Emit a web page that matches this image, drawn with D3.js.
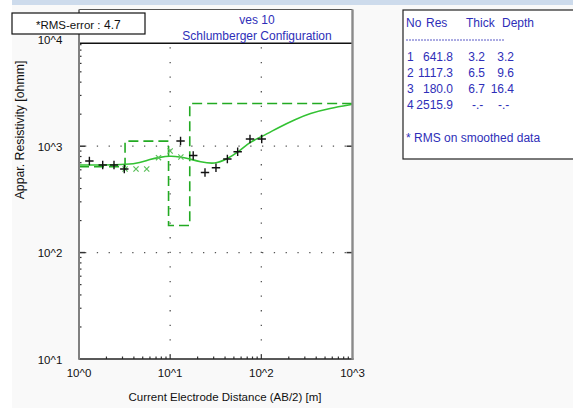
<!DOCTYPE html>
<html><head><meta charset="utf-8">
<script src="https://cdn.jsdelivr.net/npm/d3@7"></script>
<style>
html,body{margin:0;padding:0;background:#fff;}
svg{display:block;font-family:"Liberation Sans",Arial,sans-serif;}
</style></head>
<body>
<svg id="c" width="573" height="408"></svg>
<script>
// ---- data ----
const title1 = "ves 10";
const title2 = "Schlumberger Configuration";
const rmsLabel = "*RMS-error :";
const rmsValue = "4.7";
const xTitle = "Current Electrode Distance (AB/2) [m]";
const yTitle = "Appar. Resistivity [ohmm]";
const xTicks = [1, 10, 100, 1000];
const xTickLabels = ["10^0", "10^1", "10^2", "10^3"];
const yTicks = [10, 100, 1000, 10000];
const yTickLabels = ["10^1", "10^2", "10^3", "10^4"];
// observed apparent resistivity (black +)
const obsAB = [1.30, 1.82, 2.42, 3.14, 13.0, 17.9, 24.1, 31.8, 42.4, 55.0, 75.1, 101];
const obsRho = [726, 665, 665, 611, 1119, 818, 566, 628, 759, 888, 1169, 1169];
// smoothed data (green x)
const smAB = [3.2, 4.22, 5.53, 7.45, 10.0, 13.1];
const smRho = [611, 611, 611, 780, 902, 791];
// calculated curve
const curAB = [1.0, 1.7, 3.45, 4.66, 6.0, 7.72, 9.9, 12.7, 16.4, 21.2, 30.9, 42.0, 55.5, 75.1, 101, 160, 234, 340, 560, 1000];
const curRho = [665, 665, 673, 700, 753, 787, 810, 797, 758, 715, 676, 758, 877, 1102, 1228, 1524, 1782, 2037, 2271, 2475];
// layer model
const layerNo = [1, 2, 3, 4];
const layerRes = [641.8, 1117.3, 180.0, 2515.9];
const layerThick = [3.2, 6.5, 6.7, null];
const layerDepth = [3.2, 9.6, 16.4, null];
const tableHeader = ["No", "Res", "Thick", "Depth"];
const tableNote = "* RMS on smoothed data";

// ---- drawing ----
const svg = d3.select("#c");
const L = 79, R = 352.5, T = 43.3, B = 359, FT = 9.5;
const x = d3.scaleLog().domain([1, 1000]).range([L, R]);
const y = d3.scaleLog().domain([10, 10000]).range([B, B - 3 * 106.4]);
const blue = "#2e2eb8";

// backgrounds
svg.append("rect").attr("x", 0).attr("y", 0).attr("width", 573).attr("height", 408).attr("fill", "#ffffff");
svg.append("rect").attr("x", 12).attr("y", 0).attr("width", 561).attr("height", 408).attr("fill", "#f9f9f9");
svg.append("rect").attr("x", 12).attr("y", 0).attr("width", 561).attr("height", 5).attr("fill", "#cddbec");
svg.append("rect").attr("x", L).attr("y", FT).attr("width", R - L).attr("height", B - FT).attr("fill", "#ffffff");

// gridlines (dotted)
const grid = svg.append("g");
[10, 100].forEach(v => {
  grid.append("line").attr("x1", x(v)).attr("x2", x(v)).attr("y1", T + 4).attr("y2", B)
    .attr("stroke", "#555").attr("stroke-width", 1.3).attr("stroke-dasharray", "1.3,13.3");
});
[100, 1000].forEach(v => {
  grid.append("line").attr("x1", L + 6).attr("x2", R).attr("y1", y(v)).attr("y2", y(v))
    .attr("stroke", "#555").attr("stroke-width", 1.3).attr("stroke-dasharray", "1.3,10.5");
});

// minor ticks
const minorX = [], minorY = [];
[1, 10, 100].forEach(d => { for (let k = 2; k <= 9; k++) minorX.push(d * k); });
[10, 100, 1000].forEach(d => { for (let k = 2; k <= 9; k++) minorY.push(d * k); });
const tk = svg.append("g").attr("stroke", "#333").attr("stroke-width", 1.2);
minorX.forEach(v => tk.append("line").attr("x1", x(v)).attr("x2", x(v)).attr("y1", B).attr("y2", B - 2.5));
[10, 100].forEach(v => tk.append("line").attr("x1", x(v)).attr("x2", x(v)).attr("y1", B).attr("y2", B - 4));
minorY.forEach(v => { if (y(v) > T + 1) tk.append("line").attr("x1", L).attr("x2", L + 2.5).attr("y1", y(v)).attr("y2", y(v)); });
[100, 1000].forEach(v => {
  tk.append("line").attr("x1", L).attr("x2", L + 6).attr("y1", y(v)).attr("y2", y(v)).attr("stroke-width", 1.5);
  tk.append("line").attr("x1", R - 6).attr("x2", R).attr("y1", y(v)).attr("y2", y(v)).attr("stroke-width", 1.5);
});

// clip
svg.append("clipPath").attr("id", "pc").append("rect").attr("x", L).attr("y", T).attr("width", R - L).attr("height", B - T);
const plot = svg.append("g").attr("clip-path", "url(#pc)");

// layer model step line
const steps = [];
let prevDepth = 1;
layerRes.forEach((r, i) => {
  const d = layerDepth[i] == null ? 1000 : layerDepth[i];
  steps.push([prevDepth, r]);
  steps.push([d, r]);
  prevDepth = d;
});
plot.append("path").datum(steps)
  .attr("d", d3.line().x(p => x(p[0])).y(p => y(p[1])))
  .attr("fill", "none").attr("stroke", "#22aa22").attr("stroke-width", 1.6)
  .attr("stroke-dasharray", "10,5");

// calculated curve
plot.append("path").datum(d3.zip(curAB, curRho))
  .attr("d", d3.line().x(p => x(p[0])).y(p => y(p[1])).curve(d3.curveBasis))
  .attr("fill", "none").attr("stroke", "#33c233").attr("stroke-width", 1.6);

// smoothed data (green x)
const sx = plot.append("g").attr("stroke", "#5cc05c").attr("stroke-width", 1.2);
d3.zip(smAB, smRho).forEach(p => {
  const cx = x(p[0]), cy = y(p[1]), s = 2.6;
  sx.append("path").attr("d", `M${cx - s},${cy - s}L${cx + s},${cy + s}M${cx - s},${cy + s}L${cx + s},${cy - s}`);
});
// observed data (black +)
const ox = plot.append("g").attr("stroke", "#111").attr("stroke-width", 1.4);
d3.zip(obsAB, obsRho).forEach(p => {
  const cx = x(p[0]), cy = y(p[1]), s = 4.2;
  ox.append("path").attr("d", `M${cx - s},${cy}L${cx + s},${cy}M${cx},${cy - s}L${cx},${cy + s}`);
});

// frame
svg.append("line").attr("x1", L).attr("x2", R).attr("y1", FT).attr("y2", FT).attr("stroke", "#555").attr("stroke-width", 1);
svg.append("line").attr("x1", L).attr("x2", R).attr("y1", T).attr("y2", T).attr("stroke", "#111").attr("stroke-width", 1.5);
svg.append("line").attr("x1", L).attr("x2", R + 1).attr("y1", B).attr("y2", B).attr("stroke", "#222").attr("stroke-width", 1.6);
svg.append("line").attr("x1", L).attr("x2", L).attr("y1", FT).attr("y2", B + 0.8).attr("stroke", "#808080").attr("stroke-width", 2);
svg.append("line").attr("x1", R).attr("x2", R).attr("y1", FT).attr("y2", B + 0.8).attr("stroke", "#8a8a8a").attr("stroke-width", 2.4);

// titles
svg.append("text").attr("x", 257).attr("y", 24).attr("text-anchor", "middle").attr("fill", blue).attr("font-size", 12).text(title1);
svg.append("text").attr("x", 257).attr("y", 39.5).attr("text-anchor", "middle").attr("fill", blue).attr("font-size", 12).text(title2);

// RMS box
svg.append("rect").attr("x", 12).attr("y", 13).attr("width", 133).attr("height", 21).attr("fill", "#fff").attr("stroke", "#111").attr("stroke-width", 1.2);
svg.append("text").attr("x", 36).attr("y", 28.5).attr("font-size", 11.5).attr("fill", "#111").text(rmsLabel);
svg.append("text").attr("x", 104).attr("y", 28.5).attr("font-size", 12).attr("fill", "#111").text(rmsValue);

// tick labels
yTicks.forEach((v, i) => {
  svg.append("text").attr("x", 50).attr("y", y(v) + 4.5).attr("text-anchor", "middle").attr("font-size", 11.5).attr("fill", "#111").text(yTickLabels[i]);
});
xTicks.forEach((v, i) => {
  svg.append("text").attr("x", x(v)).attr("y", 377).attr("text-anchor", "middle").attr("font-size", 11.5).attr("fill", "#111").text(xTickLabels[i]);
});
svg.append("text").attr("x", 225).attr("y", 401).attr("text-anchor", "middle").attr("font-size", 11.5).attr("fill", "#111").text(xTitle);
svg.append("text").attr("transform", "translate(24,130) rotate(-90)").attr("text-anchor", "middle").attr("font-size", 12.3).attr("fill", "#111").text(yTitle);

// right table panel
svg.append("rect").attr("x", 403).attr("y", 10).attr("width", 180).attr("height", 149).attr("fill", "#fff").attr("stroke", "#222").attr("stroke-width", 1.2);
const tb = svg.append("g").attr("fill", blue).attr("font-size", 12);
tb.append("text").attr("x", 406).attr("y", 27).text(tableHeader[0]);
tb.append("text").attr("x", 426).attr("y", 27).text(tableHeader[1]);
tb.append("text").attr("x", 466).attr("y", 27).text(tableHeader[2]);
tb.append("text").attr("x", 502).attr("y", 27).text(tableHeader[3]);
svg.append("line").attr("x1", 406).attr("x2", 505).attr("y1", 40).attr("y2", 40).attr("stroke", blue).attr("stroke-width", 0.8).attr("stroke-dasharray", "2,1");
layerNo.forEach((n, i) => {
  const yy = 61 + i * 16;
  tb.append("text").attr("x", 407).attr("y", yy).text(n);
  tb.append("text").attr("x", 453).attr("y", yy).attr("text-anchor", "end").text(layerRes[i].toFixed(1));
  if (layerThick[i] == null) {
    tb.append("text").attr("x", 472).attr("y", yy).text("-.-");
    tb.append("text").attr("x", 498).attr("y", yy).text("-.-");
  } else {
    tb.append("text").attr("x", 485).attr("y", yy).attr("text-anchor", "end").text(layerThick[i].toFixed(1));
    tb.append("text").attr("x", 514).attr("y", yy).attr("text-anchor", "end").text(layerDepth[i].toFixed(1));
  }
});
tb.append("text").attr("x", 406).attr("y", 142).text(tableNote);
</script>
</body></html>
